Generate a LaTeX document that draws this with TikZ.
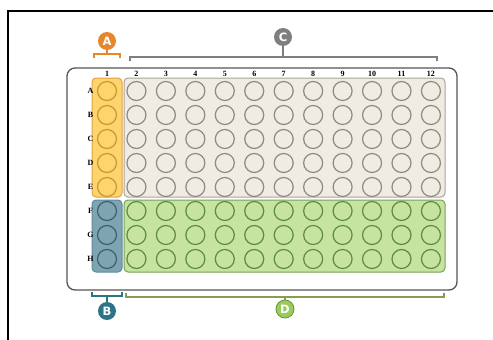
\documentclass[tikz,border=0pt]{standalone}
\usepackage{fontspec}
\setmainfont{Liberation Serif}
\newfontfamily\lblfont{DejaVu Sans}
\definecolor{orfill}{HTML}{FDD46E}
\definecolor{ordraw}{HTML}{E0A245}
\definecolor{orwell}{HTML}{C9982E}
\definecolor{blfill}{HTML}{7EA4B2}
\definecolor{bldraw}{HTML}{5E8B9B}
\definecolor{blwell}{HTML}{3F5F6C}
\definecolor{grfill}{HTML}{F0ECE4}
\definecolor{grdraw}{HTML}{A9A59D}
\definecolor{grwell}{HTML}{8E8A82}
\definecolor{gnfill}{HTML}{C6E3A2}
\definecolor{gndraw}{HTML}{7BA05C}
\definecolor{gnwell}{HTML}{5E8C3C}
\definecolor{plate}{HTML}{555555}
\definecolor{labA}{HTML}{E8862A}
\definecolor{labB}{HTML}{2E7489}
\definecolor{labC}{HTML}{7F7F7F}
\definecolor{labD}{HTML}{9BCB5A}
\definecolor{labDd}{HTML}{6E9B3A}
\definecolor{brD}{HTML}{8A9A50}
\tikzset{
  region/.style={rounded corners=4, line width=1},
  well/.style={circle, minimum size=19pt, inner sep=0pt, line width=1.2},
  collab/.style={font=\fontsize{8}{9}\selectfont\bfseries, inner sep=0pt},
  rowlab/.style={font=\fontsize{8}{9}\selectfont\bfseries, inner sep=0pt},
  badge/.style={circle, minimum size=18pt, inner sep=0pt, text=white, font=\lblfont\fontsize{11.5}{11.5}\selectfont\bfseries},
  brk/.style={line width=1.2}
}
\begin{document}
\begin{tikzpicture}[x=1pt,y=-1pt]
\useasboundingbox (0,0) rectangle (493,340);
\draw[line width=1.5] (8,340) -- (8,11) -- (493,11);
% plate
\draw[rounded corners=8, draw=plate, line width=1.3, fill=white] (67,68) rectangle (457,290);
% regions
\draw[region, fill=orfill, draw=ordraw] (92,78) rectangle (122,197);
\draw[region, fill=blfill, draw=bldraw] (92,200) rectangle (122,272);
\draw[region, fill=grfill, draw=grdraw] (124,78) rectangle (445,197);
\draw[region, fill=gnfill, draw=gndraw] (124,200) rectangle (445,272);
% wells
\foreach \c in {1,...,12} {
  \foreach \r [count=\ri from 0] in {A,B,C,D,E,F,G,H} {
    \pgfmathsetmacro{\xx}{107+(\c-1)*29.45}
    \pgfmathsetmacro{\yy}{91+\ri*24}
    \ifnum\c=1
      \ifnum\ri<5
        \node[well, draw=orwell] (w\r\c) at (\xx,\yy) {};
      \else
        \node[well, draw=blwell] (w\r\c) at (\xx,\yy) {};
      \fi
    \else
      \ifnum\ri<5
        \node[well, draw=grwell] (w\r\c) at (\xx,\yy) {};
      \else
        \node[well, draw=gnwell] (w\r\c) at (\xx,\yy) {};
      \fi
    \fi
  }
  \pgfmathsetmacro{\xx}{107+(\c-1)*29.45}
  \node[collab] (c\c) at (\xx,73.5) {\c};
}
\foreach \r [count=\ri from 0] in {A,B,C,D,E,F,G,H} {
  \pgfmathsetmacro{\yy}{91+\ri*24}
  \node[rowlab] (r\r) at (90.5,\yy) {\r};
}
% badges
\node[badge, fill=labA] (A) at (107,41) {A};
\node[badge, fill=labC] (C) at (283,37) {C};
\node[badge, fill=labB] (B) at (107,311) {B};
\node[badge, fill=labD, draw=labDd, line width=0.9] (D) at (285,309) {D};
% brackets
\coordinate (a1) at (94,58); \coordinate (a2) at (120,58);
\draw[brk, labA] (a1) -- ++(0,-4) -| (a2);
\draw[brk, labA] (107,54) -- (A);
\coordinate (c1) at (130,61); \coordinate (c2) at (437,61);
\draw[brk, labC] (c1) -- ++(0,-4) -| (c2);
\draw[brk, labC] (283,57) -- (C);
\coordinate (b1) at (92,292); \coordinate (b2) at (122,292);
\draw[brk, labB] (b1) -- ++(0,4) -| (b2);
\draw[brk, labB] (107,296) -- (B);
\coordinate (d1) at (126,293); \coordinate (d2) at (444,293);
\draw[brk, brD] (d1) -- ++(0,4) -| (d2);
\draw[brk, brD] (285,297) -- (D);
\end{tikzpicture}
\end{document}
